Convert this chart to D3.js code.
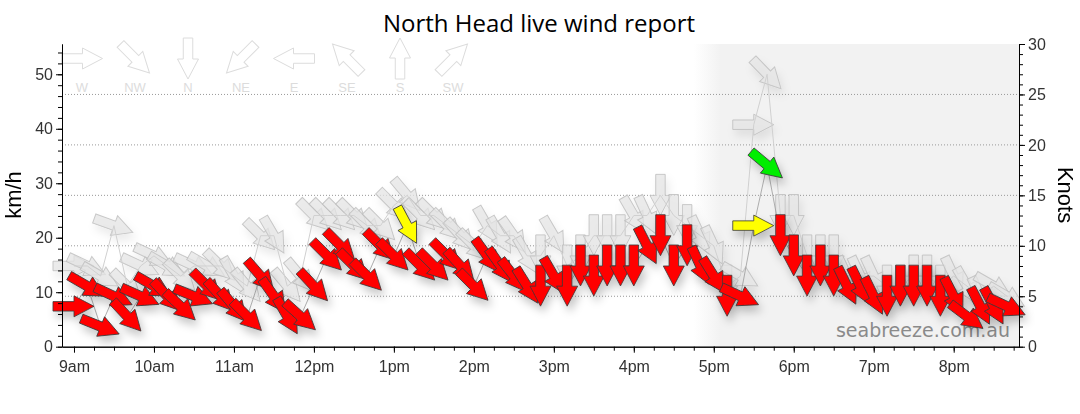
<!DOCTYPE html>
<html>
<head>
<meta charset="utf-8">
<script src="https://cdn.jsdelivr.net/npm/d3@7"></script>
<style>
  html, body { margin: 0; padding: 0; background: #fff; }
  svg { display: block; font-family: "Liberation Sans", Arial, sans-serif; }
</style>
</head>
<body>
<div id="chart"></div>
<script>
// Observation times (10 minute samples)
const times = [
  '09:00','09:10','09:20','09:30','09:40','09:50','10:00','10:10','10:20','10:30','10:40','10:50',
  '11:00','11:10','11:20','11:30','11:40','11:50','12:00','12:10','12:20','12:30','12:40','12:50',
  '13:00','13:10','13:20','13:30','13:40','13:50','14:00','14:10','14:20','14:30','14:40','14:50',
  '15:00','15:10','15:20','15:30','15:40','15:50','16:00','16:10','16:20','16:30','16:40','16:50',
  '17:00','17:10','17:20','17:30','17:40','17:50','18:00','18:10','18:20','18:30','18:40','18:50',
  '19:00','19:10','19:20','19:30','19:40','19:50','20:00','20:10','20:20','20:30','20:40'
]

// Mean wind (knots) and direction it comes from (degrees)
const meanKts = [
  4, 6, 2, 5, 3, 5, 6, 5, 4, 5, 6, 5,
  4, 3, 7, 5, 3, 3, 6, 9, 10, 8, 7, 10,
  9, 12, 8, 8, 9, 8, 6, 9, 8, 7, 6, 6,
  7, 6, 8, 7, 8, 8, 8, 10, 11, 8, 10, 8,
  7, 5, 5, 12, 18, 11, 9, 7, 8, 7, 6, 6,
  5, 5, 6, 6, 6, 5, 5, 3, 4, 4, 4
]
const meanDir = [
  270, 300, 292, 295, 317, 294, 300, 317, 313, 292, 315, 318,
  320, 315, 319, 325, 330, 312, 317, 315, 315, 315, 315, 315,
  315, 332, 315, 315, 315, 318, 315, 324, 325, 322, 328, 0,
  330, 0, 0, 0, 0, 0, 0, 333, 0, 0, 0, 335,
  328, 0, 295, 270, 310, 0, 0, 0, 0, 0, 334, 334,
  334, 0, 0, 0, 0, 0, 333, 307, 333, 332, 295
]

// Gusts (knots) and direction (degrees)
const gustKts = [
  8, 8, 7, 12, 6, 8, 9, 8, 7, 8, 8, 8,
  7, 6, 11, 11, 6, 7, 13, 13, 13, 13, 12, 12,
  14, 15, 13, 13, 12, 11, 10, 12, 11, 11, 9, 9,
  11, 8, 9, 11, 11, 11, 13, 13, 15, 13, 12, 11,
  10, 6, 7, 22, 27, 13, 13, 9, 9, 9, 7, 7,
  7, 6, 6, 7, 7, 6, 7, 6, 5, 6, 5
]
const gustDir = [
  270, 295, 300, 290, 315, 295, 295, 300, 315, 295, 300, 315,
  330, 320, 315, 330, 320, 320, 315, 315, 315, 315, 315, 315,
  315, 320, 315, 315, 315, 318, 315, 330, 330, 325, 330, 0,
  330, 0, 0, 0, 0, 0, 330, 335, 0, 0, 0, 335,
  335, 0, 300, 270, 316, 0, 0, 0, 0, 0, 335, 335,
  335, 0, 0, 0, 0, 0, 335, 330, 335, 300, 300
]

// Direction key
const compassLabels = ['W', 'NW', 'N', 'NE', 'E', 'SE', 'S', 'SW']
const compassDeg = [270, 315, 0, 45, 90, 135, 180, 225]

// Axis ticks
const kmhTicks = [0, 10, 20, 30, 40, 50]
const knotTicks = [0, 5, 10, 15, 20, 25, 30]
const gridKnots = [5, 10, 15, 20, 25]
const hourTicks = ['09:00','10:00','11:00','12:00','13:00','14:00','15:00','16:00','17:00','18:00','19:00','20:00']
const nightFrom = '16:45'
const nightTo = '17:05'

const width = 1080
const height = 414
const plot = { left: 62, right: 1019, top: 44, bottom: 346.7 }

const day = s => {
  const [h, m] = s.split(':').map(Number)
  return new Date(2020, 0, 1, h, m)
}

const obs = times.map((t, i) => ({
  t: day(t),
  mean: meanKts[i],
  meanDir: meanDir[i],
  gust: gustKts[i],
  gustDir: gustDir[i],
}))

const svg = d3
  .select('#chart')
  .append('svg')
  .attr('width', width)
  .attr('height', height)

// Scales
const x = d3
  .scaleTime()
  .domain([day('08:51'), day('20:49')])
  .range([plot.left, plot.right])
const yKts = d3.scaleLinear().domain([0, 30]).range([plot.bottom, plot.top])
const yKmh = d3
  .scaleLinear()
  .domain([0, 30 * 1.852])
  .range([plot.bottom, plot.top])
const colour = d3
  .scaleThreshold()
  .domain([12, 18])
  .range(['#ff0000', '#ffff00', '#00ee00'])

// Defs: shadow + night fade
const defs = svg.append('defs')
const shadow = defs.append('filter').attr('id', 'shadow')
  .attr('x', '-50%').attr('y', '-50%').attr('width', '200%').attr('height', '200%')
shadow.append('feDropShadow')
  .attr('dx', 3).attr('dy', 6).attr('stdDeviation', 4)
  .attr('flood-color', '#000').attr('flood-opacity', 0.22)
const shadowLight = defs.append('filter').attr('id', 'shadowLight')
  .attr('x', '-50%').attr('y', '-50%').attr('width', '200%').attr('height', '200%')
shadowLight.append('feDropShadow')
  .attr('dx', 3).attr('dy', 6).attr('stdDeviation', 4)
  .attr('flood-color', '#000').attr('flood-opacity', 0.1)

const grad = defs.append('linearGradient')
  .attr('id', 'night')
  .attr('gradientUnits', 'userSpaceOnUse')
  .attr('x1', x(day(nightFrom))).attr('x2', x(day(nightTo)))
  .attr('y1', 0).attr('y2', 0)
grad.append('stop').attr('offset', 0).attr('stop-color', '#f2f2f2').attr('stop-opacity', 0)
grad.append('stop').attr('offset', 1).attr('stop-color', '#f2f2f2').attr('stop-opacity', 1)

// Night shading
svg.append('rect')
  .attr('x', x(day(nightFrom)))
  .attr('y', plot.top)
  .attr('width', plot.right - x(day(nightFrom)))
  .attr('height', plot.bottom - plot.top)
  .attr('fill', 'url(#night)')

// Grid lines
svg.append('g')
  .selectAll('line')
  .data(gridKnots)
  .enter()
  .append('line')
  .attr('x1', plot.left)
  .attr('x2', plot.right)
  .attr('y1', d => yKts(d))
  .attr('y2', d => yKts(d))
  .attr('stroke', '#999')
  .attr('stroke-width', 1)
  .attr('stroke-dasharray', '1,2')

// Watermark
svg.append('text')
  .attr('x', 1010)
  .attr('y', 337)
  .attr('text-anchor', 'end')
  .style('font-family', '"DejaVu Sans", Verdana, sans-serif')
  .style('font-size', '19px')
  .attr('fill', '#8a8a8a')
  .text('seabreeze.com.au')

// Arrow shape, neck at origin, pointing +x
const arrowPts = [[-21, -4.75], [0, -4.75], [0, -10.5], [20, 0], [0, 10.5], [0, 4.75], [-21, 4.75]]
const arrowPath = 'M' + arrowPts.join('L') + 'Z'

// Direction key
const keyX = d3.scalePoint().domain(compassLabels).range([82, 453])
const key = svg.append('g')
key.selectAll('path')
  .data(compassLabels)
  .enter()
  .append('path')
  .attr('d', arrowPath)
  .attr('transform', (d, i) => `translate(${keyX(d)},58.5) rotate(${compassDeg[i] + 90}) translate(0.5,0)`)
  .attr('fill', 'none')
  .attr('stroke', '#dcdcdc')
  .attr('stroke-width', 1)
key.selectAll('text')
  .data(compassLabels)
  .enter()
  .append('text')
  .attr('x', d => keyX(d))
  .attr('y', 92)
  .attr('text-anchor', 'middle')
  .style('font-size', '13px')
  .attr('fill', '#dcdcdc')
  .text(d => d)

// Gust arrows
svg.append('g')
  .attr('filter', 'url(#shadowLight)')
  .selectAll('path')
  .data(obs)
  .enter()
  .append('path')
  .attr('d', arrowPath)
  .attr('transform', d => `translate(${x(d.t)},${yKts(d.gust)}) rotate(${d.gustDir + 90})`)
  .attr('fill', '#e4e4e4')
  .attr('fill-opacity', 0.75)
  .attr('stroke', '#bdbdbd')
  .attr('stroke-opacity', 0.8)
  .attr('stroke-width', 1)

// Connecting lines
const gustLine = d3.line().x(d => x(d.t)).y(d => yKts(d.gust))
const meanLine = d3.line().x(d => x(d.t)).y(d => yKts(d.mean))
svg.append('path')
  .attr('d', gustLine(obs))
  .attr('fill', 'none')
  .attr('stroke', '#d0d0d0')
  .attr('stroke-width', 1)
svg.append('path')
  .attr('d', meanLine(obs))
  .attr('fill', 'none')
  .attr('stroke', '#9a9a9a')
  .attr('stroke-width', 0.8)

// Mean arrows
svg.append('g')
  .attr('filter', 'url(#shadow)')
  .selectAll('path')
  .data(obs)
  .enter()
  .append('path')
  .attr('d', arrowPath)
  .attr('transform', d => `translate(${x(d.t)},${yKts(d.mean)}) rotate(${d.meanDir + 90})`)
  .attr('fill', d => colour(d.mean))
  .attr('stroke', '#3a3a3a')
  .attr('stroke-width', 0.8)

// Axes
const styleAxis = g => {
  g.select('.domain').attr('stroke', '#000')
  g.selectAll('.tick line').attr('stroke', '#000')
  g.selectAll('.tick text')
    .attr('fill', '#333')
    .style('font-size', '16px')
    .style('font-family', '"Liberation Sans", Arial, sans-serif')
}

// left minor + major
svg.append('g')
  .attr('transform', `translate(${plot.left},0)`)
  .call(d3.axisLeft(yKmh).tickValues(d3.range(0, 56, 2)).tickSize(4).tickFormat('').tickSizeOuter(0))
  .call(styleAxis)
svg.append('g')
  .attr('transform', `translate(${plot.left},0)`)
  .call(d3.axisLeft(yKmh).tickValues(kmhTicks).tickSize(6).tickPadding(3).tickSizeOuter(0))
  .call(styleAxis)

// right minor + major
svg.append('g')
  .attr('transform', `translate(${plot.right},0)`)
  .call(d3.axisRight(yKts).tickValues(d3.range(0, 31, 1)).tickSize(4).tickFormat('').tickSizeOuter(0))
  .call(styleAxis)
svg.append('g')
  .attr('transform', `translate(${plot.right},0)`)
  .call(d3.axisRight(yKts).tickValues(knotTicks).tickSize(6).tickPadding(3).tickSizeOuter(0))
  .call(styleAxis)

// bottom minor + major
const quarterTicks = d3.timeMinute.every(15).range(day('09:00'), day('20:46'))
svg.append('g')
  .attr('transform', `translate(0,${plot.bottom})`)
  .call(d3.axisBottom(x).tickValues(quarterTicks).tickSize(4).tickFormat('').tickSizeOuter(0))
  .call(styleAxis)
svg.append('g')
  .attr('transform', `translate(0,${plot.bottom})`)
  .call(
    d3.axisBottom(x)
      .tickValues(hourTicks.map(day))
      .tickSize(6)
      .tickPadding(8)
      .tickSizeOuter(0)
      .tickFormat(d => d3.timeFormat('%-I%p')(d).toLowerCase()),
  )
  .call(styleAxis)

// Titles
svg.append('text')
  .attr('x', 539)
  .attr('y', 31.5)
  .attr('text-anchor', 'middle')
  .style('font-family', '"Open Sans", "Noto Sans", sans-serif')
  .style('font-size', '24px')
  .attr('fill', '#000')
  .text('North Head live wind report')

svg.append('text')
  .attr('transform', 'translate(21,195) rotate(-90)')
  .attr('text-anchor', 'middle')
  .style('font-size', '22px')
  .attr('fill', '#000')
  .text('km/h')

svg.append('text')
  .attr('transform', 'translate(1058,195) rotate(90)')
  .attr('text-anchor', 'middle')
  .style('font-size', '22px')
  .attr('fill', '#000')
  .text('Knots')
</script>
</body>
</html>
